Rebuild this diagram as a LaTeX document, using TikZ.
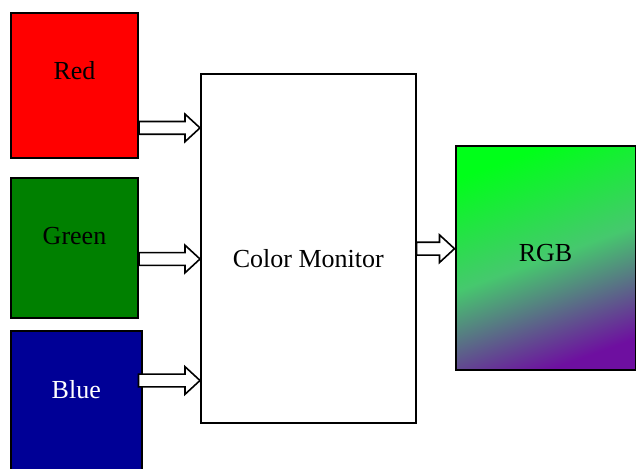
\documentclass[tikz,border=0pt]{standalone}
\usepackage{fontspec}
\setmainfont{Liberation Serif}
\usetikzlibrary{
  arrows.meta,
  positioning,
  calc
}
\definecolor{boxred}{RGB}{255,0,0}
\definecolor{boxgreen}{RGB}{0,128,0}
\definecolor{boxblue}{RGB}{0,0,150}
\definecolor{rgbtop}{RGB}{0,255,25}
\definecolor{rgbmid}{RGB}{70,200,110}
\definecolor{rgbbottom}{RGB}{110,15,160}

% hollow block arrow from #1 to the x of #2
\newcommand{\blockarrow}[2]{%
  \draw[blockarr] let \p1=(#1), \p2=(#2) in
    (\x1,\y1+3.2pt) -- (\x2-7.5pt,\y1+3.2pt) -- (\x2-7.5pt,\y1+6.9pt)
    -- (\x2,\y1) -- (\x2-7.5pt,\y1-6.9pt) -- (\x2-7.5pt,\y1-3.2pt)
    -- (\x1,\y1-3.2pt) -- cycle;}

\begin{document}
\begin{tikzpicture}[
  x=0.5pt, y=-0.5pt,
  every node/.style={font=\fontsize{13}{15}\selectfont},
  colorbox/.style={draw=black, line width=1pt, minimum width=63.5pt,
                 inner sep=0pt},
  monbox/.style={draw=black, line width=1pt, fill=white,
                 minimum width=107.3pt, minimum height=174.4pt, inner sep=0pt},
  rgbbox/.style={draw=black, line width=1pt, minimum width=90pt,
                 minimum height=112pt, inner sep=0pt,
                 top color=rgbtop, bottom color=rgbbottom,
                 middle color=rgbmid, shading angle=20},
  blockarr/.style={draw=black, line width=0.8pt, fill=white,
                 line join=miter},
  >=Stealth
]
\useasboundingbox (0,0) rectangle (636,469);

\node[colorbox, fill=boxred, minimum height=72.6pt,
  label={[name=redtext, yshift=7.5pt]center:Red}] (red) at (74.5,85.3) {};
\node[colorbox, fill=boxgreen, minimum height=70pt,
  label={[name=greentext, yshift=6pt]center:Green}] (green) at (74.5,248) {};
\node[colorbox, fill=boxblue, minimum width=65.25pt, minimum height=69.5pt,
  label={[name=bluetext, yshift=5.5pt, text=white]center:Blue}] (blue) at (76.25,400.5) {};

\node[monbox, label={[name=montext, yshift=-5pt]center:Color Monitor}] (mon) at (308.3,248.7) {};
\node[rgbbox, label={[name=rgbtext, yshift=2.75pt]center:RGB}] (rgb) at (545.5,258.5) {};

\coordinate (redout) at ([yshift=-21.3pt]red.east);
\coordinate (greenout) at ([yshift=-5.5pt]green.east);
\coordinate (blueout) at ([xshift=-2pt, yshift=10pt]blue.east);

\blockarrow{redout}{mon.west}
\blockarrow{greenout}{mon.west}
\blockarrow{blueout}{mon.west}
\blockarrow{mon.east}{rgb.west}

\end{tikzpicture}
\end{document}
